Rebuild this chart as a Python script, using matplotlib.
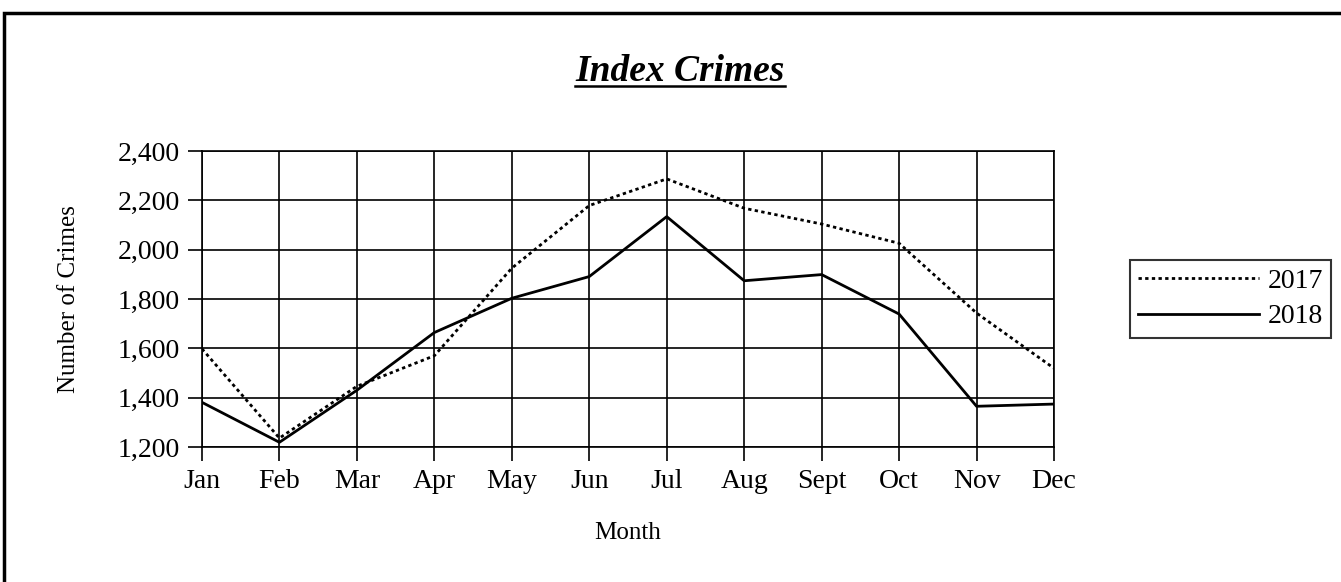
import matplotlib
matplotlib.use("Agg")
import matplotlib.pyplot as plt
from matplotlib.lines import Line2D
from matplotlib.patches import Rectangle

plt.rcParams['font.family'] = ['Liberation Serif', 'DejaVu Serif']

months = ['Jan', 'Feb', 'Mar', 'Apr', 'May', 'Jun', 'Jul', 'Aug', 'Sept', 'Oct', 'Nov', 'Dec']
crimes_2017 = [1598, 1236, 1446, 1570, 1925, 2179, 2287, 2168, 2104, 2026, 1743, 1519]
crimes_2018 = [1381, 1219, 1430, 1664, 1803, 1891, 2134, 1874, 1899, 1739, 1365, 1374]
y_ticks = [1200, 1400, 1600, 1800, 2000, 2200, 2400]

fig = plt.figure(figsize=(13.41, 5.82), dpi=100)
ax = fig.add_axes([0.1506, 0.232, 0.6354, 0.5085])

x = range(len(months))
ax.plot(x, crimes_2017, color='black', lw=2, linestyle=(0, (1.2, 1.2)), label='2017')
ax.plot(x, crimes_2018, color='black', lw=2, label='2018')

ax.set_xlim(0, len(months) - 1)
ax.set_ylim(1200, 2400)
ax.set_xticks(list(x))
ax.set_xticklabels(months)
ax.set_yticks(y_ticks)
ax.set_yticklabels([f'{v:,}' for v in y_ticks])
ax.grid(True, color='black', lw=1.2)
ax.set_axisbelow(True)
for s in ax.spines.values():
    s.set_linewidth(1.2)
ax.tick_params(labelsize=20, length=10, width=1.2, pad=6)

ax.set_xlabel('Month', fontsize=18, labelpad=20)
ax.set_ylabel('Number of Crimes', fontsize=18, labelpad=27)

leg = ax.legend(loc='center left', bbox_to_anchor=(1.073, 0.5), fontsize=20,
                frameon=True, fancybox=False, edgecolor='black', handlelength=4.35,
                handletextpad=0.3, borderpad=0.3, labelspacing=0.35)
leg.get_frame().set_linewidth(1.5)

title = fig.text(0.507, 0.878, 'Index Crimes', fontsize=27, fontweight='bold',
                 fontstyle='italic', ha='center', va='center')
fig.canvas.draw()
bb = title.get_window_extent().transformed(fig.transFigure.inverted())
fig.add_artist(Line2D([bb.x0, bb.x1], [bb.y0 + 0.004, bb.y0 + 0.004],
                      transform=fig.transFigure, color='black', lw=1.8))

fig.add_artist(Rectangle((4 / 1341, -0.1), 1.2, 1.1 - 13 / 582, transform=fig.transFigure,
                         fill=False, edgecolor='black', lw=2.5))

fig.savefig('out.png', dpi=100)
